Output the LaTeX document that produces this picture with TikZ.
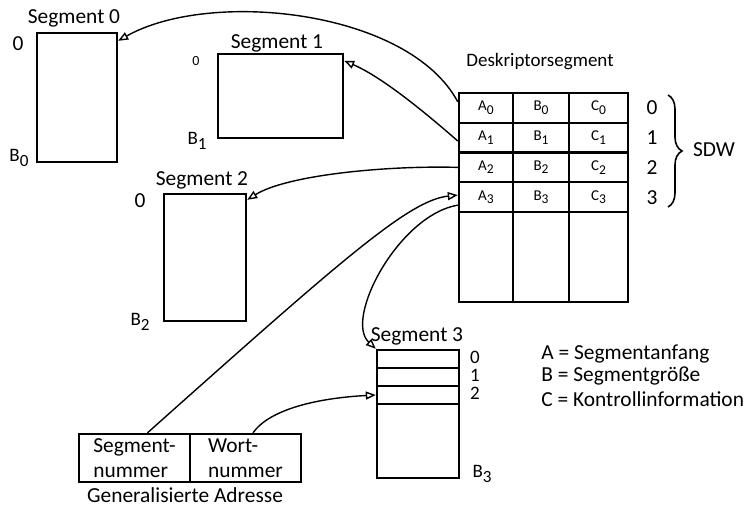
\documentclass[tikz,border=0pt]{standalone}
\usepackage{fontspec}
\setmainfont{Carlito}
\usetikzlibrary{arrows.meta,decorations.pathreplacing}
\newcommand{\segidx}[2]{#1\raisebox{-0.5ex}{\scalebox{0.9}{#2}}}
\tikzset{
  box/.style={draw, line width=1.2pt, inner sep=0pt},
  lab/.style={font=\fontsize{10.7}{12.5}\selectfont, inner sep=1pt},
  blab/.style={font=\fontsize{9.5}{11}\selectfont, inner sep=1pt},
  smalllab/.style={font=\fontsize{7}{8}\selectfont, inner sep=1pt},
  cell/.style={box, font=\fontsize{7.5}{9}\selectfont},
  ptr/.style={line width=0.7pt, -{Triangle[open,length=5pt,width=4pt]}},
}

\begin{document}
\begin{tikzpicture}[x=0.5pt,y=-0.5pt]
  \useasboundingbox (0,0) rectangle (746,505);
  %%%%% START %%%%%
  % segments 0 to 2
  \node[box, minimum width=40pt, minimum height=64.5pt] (seg0) at (77,97.5) {};
  \node[lab] (t0) at (74,18) {Segment 0};
  \node[lab] (z0) at (18,44) {0};
  \node[blab] (b0) at (19,158) {\segidx{B}{0}};

  \node[box, minimum width=62.5pt, minimum height=42pt] (seg1) at (280.5,96) {};
  \node[lab] (t1) at (277,43) {Segment 1};
  \node[smalllab] (z1) at (196,61) {0};
  \node[blab] (b1) at (197,141) {\segidx{B}{1}};

  \node[box, minimum width=41pt, minimum height=63.5pt] (seg2) at (205,257.5) {};
  \node[lab] (t2) at (202,180) {Segment 2};
  \node[lab] (z2) at (140,201) {0};
  \node[blab] (b2) at (140,322) {\segidx{B}{2}};

  % descriptor segment
  \node[blab] (dtitle) at (540,62) {Deskriptorsegment};
  \foreach \r in {0,...,3} {
    \foreach \l/\x/\w in {A/486/27pt, B/541/28pt, C/598.5/29.5pt}
      \node[cell, minimum width=\w, minimum height=14.875pt] (\l\r) at (\x,107.875+29.75*\r) {\segidx{\l}{\r}};
    \node[lab] (n\r) at (652,107.875+29.75*\r) {\r};
  }
  \foreach \l/\x/\w in {A/486/27pt, B/541/28pt, C/598.5/29.5pt}
    \node[box, minimum width=\w, minimum height=45pt] (\l x) at (\x,257) {};
  \draw[decorate, decoration={brace, amplitude=7pt}, line width=0.8pt] (668,95) -- (668,207);
  \node[lab] (sdw) at (714,150) {SDW};

  % segment 3
  \node[box, minimum width=41pt, minimum height=9pt] (s3r0) at (418,359) {};
  \node[box, minimum width=41pt, minimum height=9pt] (s3r1) at (418,377) {};
  \node[box, minimum width=41pt, minimum height=9pt] (s3r2) at (418,395) {};
  \node[box, minimum width=41pt, minimum height=37pt] (s3rest) at (418,441) {};
  \node[lab] (t3) at (417,336) {Segment 3};
  \foreach \i/\y in {0/357, 1/375, 2/393}
    \node[blab, inner sep=0pt] (m\i) at (475,\y) {\i};
  \node[blab] (b3) at (482,474) {\segidx{B}{3}};

  % legend
  \node[lab, anchor=west] (leg1) at (539,354) {A = Segmentanfang};
  \node[lab, anchor=west] (leg2) at (539,376) {B = Segmentgröße};
  \node[lab, anchor=west] (leg3) at (539,399) {C = Kontrollinformation};

  % generalized address
  \node[box, minimum width=55.5pt, minimum height=24pt, align=left, font=\fontsize{10.7}{12.5}\selectfont] (adrseg) at (134.5,458) {Segment-\\nummer};
  \node[box, minimum width=55.5pt, minimum height=24pt, align=left, font=\fontsize{10.7}{12.5}\selectfont] (adrword) at (245.5,458) {Wort-\\nummer};
  \node[lab, anchor=base] (adrtitle) at (185,502) {Generalisierte Adresse};

  % pointers
  \draw[ptr] ([yshift=3pt]A0.west) .. controls +(-49,-92) and +(92,-52) .. ([yshift=-4.5pt]seg0.north east);
  \draw[ptr] ([yshift=-1.7pt]A1.west) .. controls +(-40,-35) and +(35,15) .. ([yshift=-4pt]seg1.north east);
  \draw[ptr] (A2.west) .. controls +(-70,-2) and +(40,-25) .. ([yshift=-3.5pt]seg2.north east);
  \draw[ptr] ([xshift=6.5pt]adrseg.north) .. controls +(193,-172) and +(-49,5) .. ([yshift=1pt]A3.west);
  \draw[ptr] ([yshift=-4pt]A3.west) .. controls +(-59,10) and +(-32,-30) .. (s3r0.north west);
  \draw[ptr] ([xshift=3.75pt]adrword.north) .. controls +(17,-24) and +(-57,3) .. (s3r2.west);
  %%%%% END %%%%%
\end{tikzpicture}
\end{document}
